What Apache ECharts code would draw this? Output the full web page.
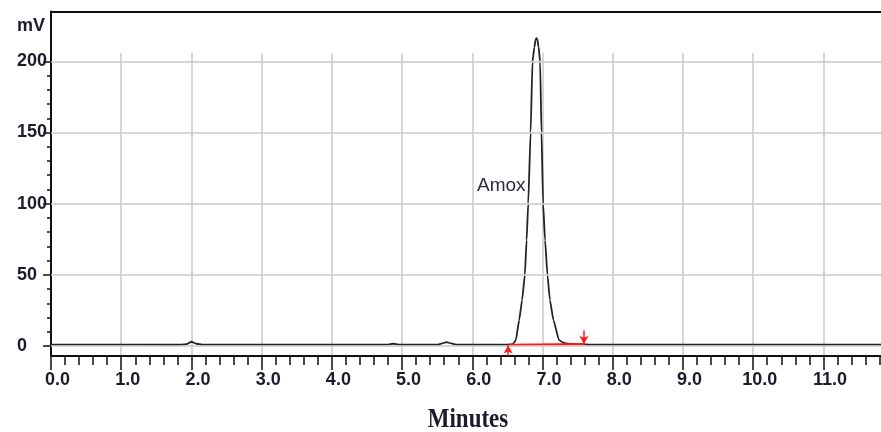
<!DOCTYPE html>
<html><head><meta charset="utf-8">
<script src="https://cdn.jsdelivr.net/npm/echarts@6/dist/echarts.min.js"></script>
<style>html,body{margin:0;padding:0;background:#fff}#c{width:881px;height:432px}</style>
</head><body><div id="c"></div>
<script>
// Chromatogram trace (minutes, mV)
const timeMin = [0, 1.85, 1.93, 2.0, 2.07, 2.15, 4.8, 4.87, 4.95, 5.5, 5.57, 5.63, 5.7, 5.78,
  6.5, 6.577, 6.62, 6.667, 6.709, 6.748, 6.773, 6.796, 6.83, 6.857, 6.884, 6.9, 6.914, 6.928, 6.944,
  6.965, 6.985, 7.008, 7.036, 7.07, 7.105, 7.155, 7.235, 7.31, 7.413, 7.6, 7.65, 11.82];
const signalMv = [1.0, 0.9, 1.3, 3.0, 1.6, 1.0, 1.0, 1.6, 1.0, 1.0, 1.8, 2.8, 1.8, 1.0,
  1.0, 1.3, 4.2, 18.2, 32.3, 50, 74.4, 100, 150, 200, 210, 215, 216.3, 215, 210,
  200, 150, 100, 74.4, 50, 32.3, 18.2, 4.2, 2.0, 1.5, 1.2, 1.0, 1.0];
// Integration baseline (red) and its start / end markers
const baselineTime = [6.52, 7.6];
const baselineMv = [0.8, 1.4];
const startMarkerTime = 6.51, startMarkerMv = [-6.9, 0.3];
const endMarkerTime = 7.59, endMarkerMv = [11, 1.6];
const peakName = 'Amox';
// Axes
const xMajorTicks = [0, 1, 2, 3, 4, 5, 6, 7, 8, 9, 10, 11];
const xMinorTicks = [];
for (let i = 0; i <= 59; i++) { if (i % 5 !== 0) xMinorTicks.push(+(i * 0.2).toFixed(1)); }
const yMajorTicks = [0, 50, 100, 150, 200];
const yMinorTicks = [];
for (let v = 10; v < 200; v += 10) { if (v % 50 !== 0) yMinorTicks.push(v); }
const X_MIN = 0, X_MAX = 11.82, Y_MIN = -7, Y_MAX = 235;

const ink = '#1b1b2b';
const gridCol = '#c9c9c9';
const chart = echarts.init(document.getElementById('c'), null, {renderer: 'canvas'});
const lbl = {fontSize: 18, fontWeight: 'bold', fontFamily: 'Liberation Sans', color: ink};
chart.setOption({
  animation: false,
  backgroundColor: '#fff',
  grid: [
    {left: 51, right: 0, top: 11.5, bottom: 76},
    {left: 51, right: 0, top: 53, bottom: 76}
  ],
  xAxis: [
    {gridIndex: 0, type: 'value', min: X_MIN, max: X_MAX, position: 'bottom',
      axisLine: {show: true, onZero: false, lineStyle: {color: '#111', width: 2}},
      axisTick: {show: true, customValues: xMajorTicks, length: 14, lineStyle: {color: '#111', width: 1.5}},
      axisLabel: Object.assign({show: true, customValues: xMajorTicks, formatter: v => v.toFixed(1), margin: 15, padding: [0, 0, 0, 13]}, lbl),
      splitLine: {show: false}},
    {gridIndex: 0, type: 'value', min: X_MIN, max: X_MAX, position: 'bottom',
      axisLine: {show: false, onZero: false},
      axisTick: {show: true, customValues: xMinorTicks, length: 9, lineStyle: {color: '#111', width: 1.5}},
      axisLabel: {show: false}, splitLine: {show: false}},
    {gridIndex: 0, type: 'value', min: X_MIN, max: X_MAX, position: 'top',
      axisLine: {show: true, onZero: false, lineStyle: {color: '#111', width: 2}},
      axisTick: {show: false}, axisLabel: {show: false}, splitLine: {show: false}},
    {gridIndex: 1, type: 'value', min: X_MIN, max: X_MAX, interval: 1,
      axisLine: {show: false, onZero: false}, axisTick: {show: false}, axisLabel: {show: false},
      splitLine: {show: true, showMaxLine: false, lineStyle: {color: gridCol, width: 1.5}}}
  ],
  yAxis: [
    {gridIndex: 0, type: 'value', min: Y_MIN, max: Y_MAX, position: 'left',
      axisLine: {show: true, onZero: false, lineStyle: {color: '#111', width: 2}},
      axisTick: {show: true, customValues: yMajorTicks, length: 8, lineStyle: {color: '#111', width: 1.5}},
      axisLabel: Object.assign({show: true, customValues: yMajorTicks, align: 'left', margin: 34, padding: [0, 0, 5, 0]}, lbl),
      splitLine: {show: false}},
    {gridIndex: 0, type: 'value', min: Y_MIN, max: Y_MAX, position: 'left',
      axisLine: {show: false, onZero: false},
      axisTick: {show: true, customValues: yMinorTicks, length: 4, lineStyle: {color: '#111', width: 1.5}},
      axisLabel: {show: false}, splitLine: {show: false}},
    {gridIndex: 1, type: 'value', min: 0, max: 1, show: false}
  ],
  series: [
    {type: 'line', xAxisIndex: 0, yAxisIndex: 0, data: [], z: 1, silent: true,
      markLine: {silent: true, symbol: 'none', animation: false, label: {show: false},
        lineStyle: {color: gridCol, width: 1.5, type: 'solid'},
        data: yMajorTicks.map(v => ({yAxis: v}))}},
    {type: 'line', xAxisIndex: 0, yAxisIndex: 0, z: 3, symbol: 'none', smooth: 0.15, smoothMonotone: 'x',
      lineStyle: {color: '#222', width: 1.8},
      data: timeMin.map((t, i) => [t, signalMv[i]])},
    {type: 'line', xAxisIndex: 0, yAxisIndex: 0, z: 4, symbol: 'none', clip: false,
      lineStyle: {color: '#ff1a1a', width: 2.2},
      data: baselineTime.map((t, i) => [t, baselineMv[i]]),
      markLine: {silent: true, symbol: ['none', 'arrow'], symbolSize: [7, 8], animation: false,
        label: {show: false}, lineStyle: {color: '#ff1a1a', width: 1.5, type: 'solid'},
        data: [
          [{coord: [startMarkerTime, startMarkerMv[0]]}, {coord: [startMarkerTime, startMarkerMv[1]]}],
          [{coord: [endMarkerTime, endMarkerMv[0]]}, {coord: [endMarkerTime, endMarkerMv[1]]}]
        ]}}
  ],
  graphic: [
    {type: 'text', x: 17, y: 17, style: {text: 'mV', font: 'bold 18px "Liberation Sans"', fill: ink, textVerticalAlign: 'top'}},
    {type: 'text', x: 477, y: 176, style: {text: peakName, font: '19px "Liberation Sans"', fill: '#2a2a40', textVerticalAlign: 'top'}},
    {type: 'text', x: 468, y: 420, scaleX: 0.82, style: {text: 'Minutes', font: 'bold 28px "Liberation Serif"', fill: ink, textAlign: 'center', textVerticalAlign: 'middle'}}
  ]
});
</script></body></html>
